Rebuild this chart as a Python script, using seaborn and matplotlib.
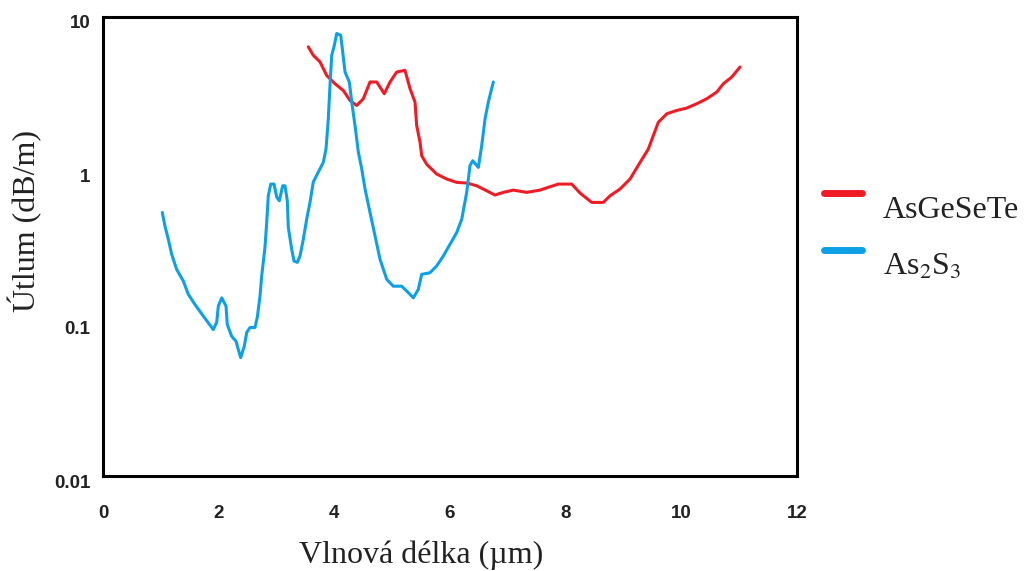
import numpy as np
import pandas as pd
import matplotlib
matplotlib.use("Agg")
import matplotlib.pyplot as plt
import matplotlib.transforms as mtransforms
from matplotlib.legend_handler import HandlerLine2D
import seaborn as sns

# ---- data ----
as2s3_x = [1.025, 1.072, 1.129, 1.188, 1.274, 1.389, 1.475, 1.591, 1.734, 1.907,
           1.966, 1.994, 2.053, 2.127, 2.149, 2.225, 2.300, 2.340, 2.381, 2.443,
           2.485, 2.542, 2.628, 2.668, 2.715, 2.744, 2.801, 2.831, 2.858, 2.900,
           2.957, 3.004, 3.049, 3.107, 3.147, 3.187, 3.204, 3.263, 3.303, 3.360,
           3.406, 3.464, 3.522, 3.580, 3.636, 3.723, 3.809, 3.856, 3.896, 3.925,
           3.955, 4.000, 4.041, 4.110, 4.145, 4.185, 4.259, 4.301, 4.358, 4.415,
           4.473, 4.531, 4.617, 4.704, 4.790, 4.906, 5.020, 5.165, 5.279, 5.366,
           5.452, 5.511, 5.654, 5.770, 5.884, 6.000, 6.116, 6.203, 6.289, 6.346,
           6.393, 6.490, 6.548, 6.606, 6.663, 6.749]
as2s3_y = [0.528, 0.429, 0.353, 0.281, 0.224, 0.188, 0.154, 0.132, 0.111, 0.0906,
           0.101, 0.129, 0.146, 0.129, 0.0978, 0.0819, 0.0760, 0.0670, 0.0594, 0.0705,
           0.0867, 0.0934, 0.0934, 0.109, 0.150, 0.203, 0.313, 0.456, 0.677, 0.809,
           0.809, 0.665, 0.629, 0.789, 0.789, 0.629, 0.423, 0.303, 0.254, 0.249,
           0.274, 0.353, 0.477, 0.617, 0.834, 0.970, 1.12, 1.37, 2.16, 3.57,
           5.62, 6.53, 7.80, 7.60, 5.91, 4.37, 3.76, 2.78, 1.95, 1.31,
           1.02, 0.751, 0.528, 0.371, 0.261, 0.193, 0.174, 0.174, 0.158, 0.146,
           0.166, 0.208, 0.213, 0.236, 0.274, 0.327, 0.390, 0.477, 0.714, 1.07,
           1.15, 1.04, 1.44, 2.16, 2.78, 3.76]

asgesete_x = [3.550, 3.636, 3.752, 3.868, 4.012, 4.155, 4.271, 4.387, 4.501, 4.617,
              4.733, 4.864, 4.963, 5.079, 5.222, 5.309, 5.395, 5.424, 5.482, 5.511,
              5.597, 5.770, 5.943, 6.116, 6.289, 6.462, 6.635, 6.778, 6.922, 7.095,
              7.327, 7.557, 7.730, 7.873, 8.105, 8.248, 8.451, 8.651, 8.767, 8.940,
              9.113, 9.286, 9.429, 9.516, 9.602, 9.748, 9.920, 10.093, 10.266, 10.439,
              10.612, 10.726, 10.871, 11.015]
asgesete_y = [6.38, 5.62, 5.09, 4.15, 3.66, 3.31, 2.85, 2.64, 2.92, 3.76,
              3.76, 3.15, 3.76, 4.37, 4.48, 3.40, 2.78, 1.95, 1.52, 1.24,
              1.09, 0.941, 0.873, 0.830, 0.822, 0.789, 0.731, 0.686, 0.714, 0.739,
              0.714, 0.739, 0.777, 0.809, 0.809, 0.707, 0.614, 0.614, 0.678, 0.751,
              0.873, 1.12, 1.37, 1.68, 2.05, 2.33, 2.45, 2.54, 2.71, 2.92,
              3.23, 3.66, 4.05, 4.71]

series_labels = ["AsGeSeTe", r"As$_2$S$_3$"]
x_ticks = [0, 2, 4, 6, 8, 10, 12]
y_ticks = [0.01, 0.1, 1, 10]
y_tick_labels = ["0.01", "0.1", "1", "10"]

df = pd.concat([
    pd.DataFrame({"x": asgesete_x, "y": asgesete_y, "s": series_labels[0]}),
    pd.DataFrame({"x": as2s3_x, "y": as2s3_y, "s": series_labels[1]}),
], ignore_index=True)

sns.set_theme(style="white")
plt.rcParams["mathtext.fontset"] = "stix"

fig = plt.figure(figsize=(10.33, 5.71), dpi=100)
ax = fig.add_axes([103 / 1033, 1 - 476 / 571, 694 / 1033, 459 / 571])

palette = {series_labels[0]: "#EE1C25", series_labels[1]: "#0EA0E4"}
sns.lineplot(data=df, x="x", y="y", hue="s", palette=palette, estimator=None,
             sort=False, linewidth=2.2, ax=ax, legend=False)

ax.set_yscale("log")
ax.set_xlim(0, 12)
ax.set_ylim(0.01, 10)
ax.set_xticks(x_ticks)
ax.set_yticks(y_ticks)
ax.set_yticklabels(y_tick_labels)
ax.yaxis.set_minor_locator(matplotlib.ticker.NullLocator())

for sp in ax.spines.values():
    sp.set_visible(True)
    sp.set_color("black")
    sp.set_linewidth(2.2)

ax.tick_params(axis="both", which="major", direction="in", length=5, width=1.8,
               color="black", labelcolor="#222222")
ax.tick_params(axis="x", pad=21)
ax.tick_params(axis="y", pad=9)
for lab in ax.get_xticklabels() + ax.get_yticklabels():
    lab.set_fontfamily("Liberation Sans")
    lab.set_fontweight("bold")
    lab.set_fontsize(13.5)
offset = mtransforms.ScaledTranslation(0, -5 / 100, fig.dpi_scale_trans)
for lab in ax.get_yticklabels():
    lab.set_transform(lab.get_transform() + offset)

ax.set_xlabel("Vlnová délka (µm)", family="Liberation Serif", fontsize=23,
              color="#222222")
ax.set_ylabel("Útlum (dB/m)", family="Liberation Serif", fontsize=23,
              color="#222222")
ax.xaxis.set_label_coords(0.458, -0.140)
ax.yaxis.set_label_coords(-0.087, 0.556)


class RaisedLine(HandlerLine2D):
    def create_artists(self, legend, orig_handle, xdescent, ydescent, width,
                       height, fontsize, trans):
        arts = super().create_artists(legend, orig_handle, xdescent, ydescent,
                                      width, height, fontsize, trans)
        for a in arts:
            a.set_ydata(np.asarray(a.get_ydata()) + 10)
        return arts


handles = [matplotlib.lines.Line2D([], [], color=palette[s], linewidth=5,
                                   solid_capstyle="round") for s in series_labels]
fig.legend(handles, series_labels, loc="upper left",
           bbox_to_anchor=(795 / 1033, 1 - 167 / 571), frameon=False,
           prop={"family": "Liberation Serif", "size": 23},
           handlelength=1.2, handletextpad=0.65, labelspacing=0.85,
           labelcolor="#222222", handler_map={matplotlib.lines.Line2D: RaisedLine()})

fig.savefig("out.png", dpi=100)
